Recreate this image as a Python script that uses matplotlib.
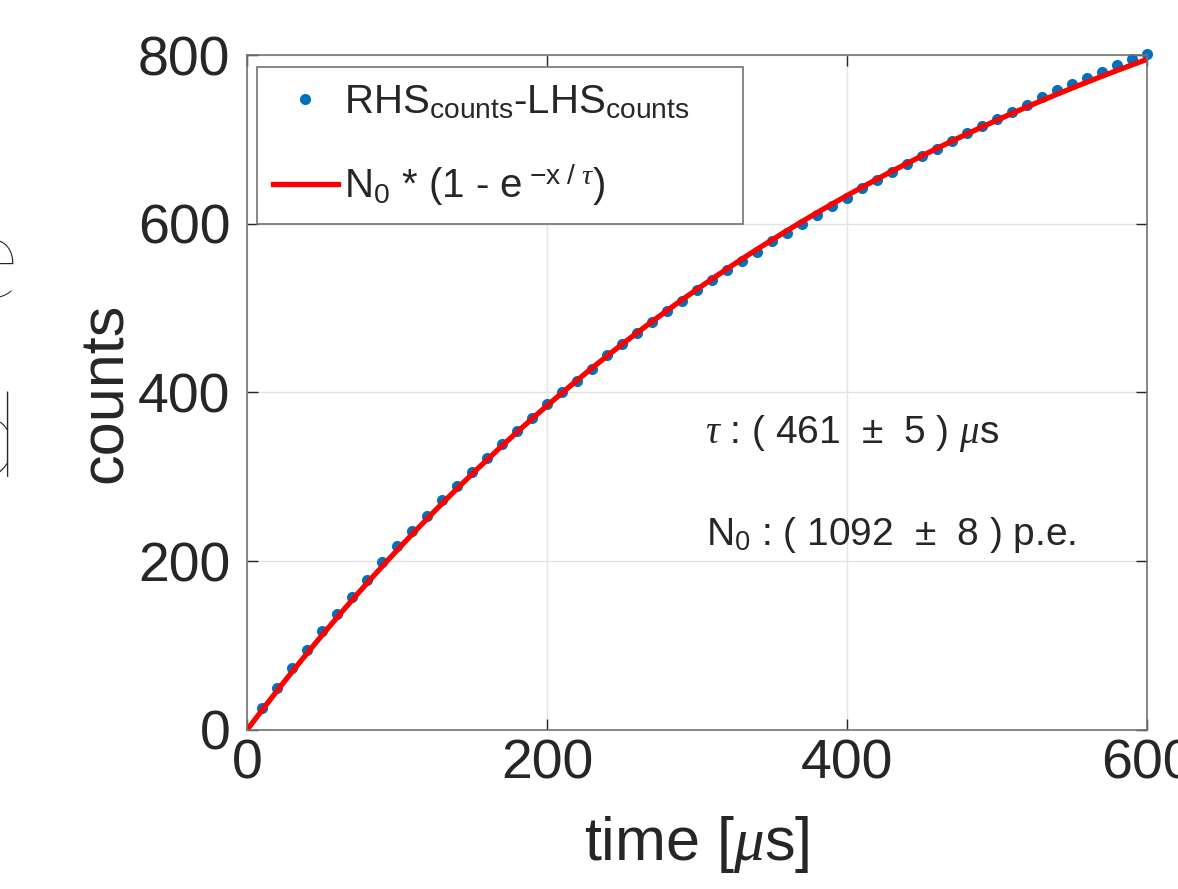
import matplotlib
matplotlib.use("Agg")
import matplotlib.pyplot as plt
import numpy as np

# measured points: RHS - LHS counts, one every 10 us
time_us = np.arange(10, 601, 10)
counts = [26, 50, 73, 95, 117, 138, 158, 178, 199, 218,
          236, 254, 272, 289, 306, 322, 339, 354, 370, 386,
          400, 414, 428, 444, 457, 471, 484, 497, 509, 521,
          533, 545, 556, 567, 579, 589, 600, 610, 621, 631,
          642, 652, 661, 671, 680, 689, 698, 707, 716, 724,
          732, 741, 750, 758, 766, 773, 780, 788, 795, 801]

# fit parameters shown on the chart
tau, tau_err = 461, 5
n0, n0_err = 1092, 8

xticks = [0, 200, 400, 600]
yticks = [0, 200, 400, 600, 800]

plt.rcParams["font.family"] = ["Liberation Sans", "DejaVu Sans"]
plt.rcParams["mathtext.fontset"] = "custom"
plt.rcParams["mathtext.rm"] = "Liberation Sans"
plt.rcParams["mathtext.sf"] = "Liberation Sans"
plt.rcParams["mathtext.it"] = "Liberation Serif:italic"
plt.rcParams["mathtext.bf"] = "Liberation Sans:bold"

dark = "#262626"

fig = plt.figure(figsize=(11.78, 8.89), dpi=100)
ax = fig.add_axes([0.2097, 0.1789, 0.7640, 0.7592])

ax.plot(time_us, counts, "o", color="#0072BD", ms=8, mew=0, clip_on=False,
        label=r"RHS$_{\mathrm{counts}}$-LHS$_{\mathrm{counts}}$")

x_fit = np.linspace(0, 600, 601)
y_fit = n0 * (1 - np.exp(-x_fit / tau))
ax.plot(x_fit, y_fit, color="red", lw=3.8,
        label=r"N$_0$ * (1 - e$^{\ \mathrm{-x\ /\ }\tau}$)")

ax.set_xlim(0, 600)
ax.set_ylim(0, 800)
ax.set_xticks(xticks)
ax.set_yticks(yticks)
ax.grid(True, color="#e3e3e3", lw=1)
ax.set_axisbelow(True)
ax.tick_params(direction="in", length=8, width=1, top=True, right=True,
               labelsize=40, color=dark, labelcolor=dark)
ax.tick_params(axis="y", pad=12)
ax.tick_params(axis="x", pad=6)
for s in ax.spines.values():
    s.set_color("0.45")
    s.set_linewidth(1.2)

ax.set_xlabel(r"time [$\mu$s]", fontsize=44, color=dark)
ax.set_ylabel("counts", fontsize=44, color=dark)
ax.xaxis.set_label_coords(0.5, -0.125)
ax.yaxis.set_label_coords(-0.125, 0.5)

leg = ax.legend(loc="upper left", bbox_to_anchor=(0.0111, 0.7393, 0.54, 0.2429),
                mode="expand", borderaxespad=0, fontsize=29, fancybox=False,
                edgecolor="0.45", framealpha=1, borderpad=0.4,
                handlelength=1.6, handletextpad=0.15, labelspacing=1.0)
leg.get_frame().set_linewidth(1.2)
for t in leg.get_texts():
    t.set_color(dark)

ax.text(305, 340, rf"$\tau$ : ( {tau} $\,\pm\,$ {tau_err} ) $\mu$s", fontsize=28,
        color=dark, va="baseline")
ax.text(306, 219, rf"N$_0$ : ( {n0} $\,\pm\,$ {n0_err} ) p.e.", fontsize=28,
        color=dark, va="baseline")

# pieces of a neighbouring label cut off at the left edge
fig.text(20 / 1178, 1 - 297 / 889, "e", ha="right", va="baseline",
         fontsize=85, family="Lato", weight=200, color=dark)
fig.text(19 / 1178, 1 - 477 / 889, "d", ha="right", va="baseline",
         fontsize=85, family="Lato", weight=200, color=dark)

fig.savefig("out.png", dpi=100)
